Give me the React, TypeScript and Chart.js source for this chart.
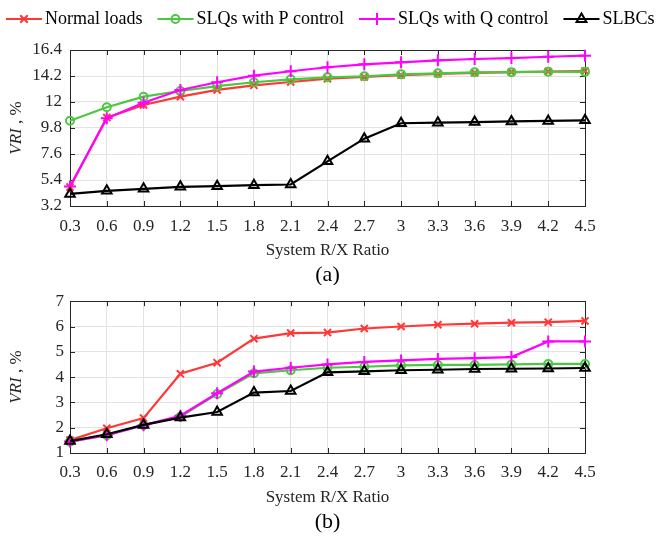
import React, { useEffect, useRef } from 'react';
import { Chart, registerables } from 'chart.js';

Chart.register(...registerables);

const xLabels = ['0.3', '0.6', '0.9', '1.2', '1.5', '1.8', '2.1', '2.4', '2.7', '3', '3.3', '3.6', '3.9', '4.2', '4.5'];
const seriesNames = ['Normal loads', 'SLQs with P control', 'SLQs with Q control', 'SLBCs'];

// Panel (a)
const normalA = [4.8, 10.68, 11.75, 12.45, 13.02, 13.41, 13.69, 13.97, 14.12, 14.28, 14.38, 14.47, 14.53, 14.58, 14.62];
const pCtrlA = [10.42, 11.55, 12.45, 12.93, 13.35, 13.67, 13.92, 14.09, 14.18, 14.34, 14.43, 14.51, 14.52, 14.56, 14.55];
const qCtrlA = [4.85, 10.62, 11.94, 13.02, 13.67, 14.23, 14.6, 14.94, 15.19, 15.36, 15.53, 15.64, 15.72, 15.83, 15.92];
const slbcA = [4.22, 4.48, 4.65, 4.82, 4.88, 4.96, 5.02, 6.98, 8.9, 10.2, 10.25, 10.3, 10.36, 10.4, 10.45];
const yTicksA = [3.2, 5.4, 7.6, 9.8, 12, 14.2, 16.4];

// Panel (b)
const normalB = [1.51, 1.98, 2.38, 4.13, 4.57, 5.52, 5.74, 5.76, 5.92, 6.0, 6.07, 6.11, 6.15, 6.17, 6.22];
const pCtrlB = [1.45, 1.7, 2.1, 2.43, 3.33, 4.15, 4.27, 4.37, 4.41, 4.46, 4.48, 4.48, 4.5, 4.52, 4.52];
const qCtrlB = [1.45, 1.7, 2.1, 2.47, 3.36, 4.22, 4.37, 4.5, 4.6, 4.66, 4.72, 4.75, 4.79, 5.41, 5.41];
const slbcB = [1.47, 1.74, 2.11, 2.4, 2.62, 3.39, 3.45, 4.19, 4.23, 4.27, 4.29, 4.32, 4.33, 4.34, 4.36];
const yTicksB = [1, 2, 3, 4, 5, 6, 7];

const COLORS = ['rgb(255,55,55)', 'rgb(75,200,65)', 'rgb(255,0,255)', 'rgb(0,0,0)'];
const STYLES = ['crossRot', 'circle', 'cross', 'triangle'];
const RADII = [5, 4, 6, 5.5];
const FONT = '"Liberation Serif", "Times New Roman", serif';

function drawMarker(ctx: CanvasRenderingContext2D, style: string, x: number, y: number, r: number, color: string) {
  ctx.save();
  ctx.strokeStyle = color;
  ctx.lineWidth = 2;
  ctx.beginPath();
  if (style === 'crossRot') {
    const d = r * 0.75;
    ctx.moveTo(x - d, y - d); ctx.lineTo(x + d, y + d);
    ctx.moveTo(x + d, y - d); ctx.lineTo(x - d, y + d);
  } else if (style === 'cross') {
    ctx.moveTo(x - r, y); ctx.lineTo(x + r, y);
    ctx.moveTo(x, y - r); ctx.lineTo(x, y + r);
  } else if (style === 'circle') {
    ctx.arc(x, y, r, 0, Math.PI * 2);
  } else if (style === 'triangle') {
    ctx.moveTo(x, y - r);
    ctx.lineTo(x + r * 0.9, y + r * 0.55);
    ctx.lineTo(x - r * 0.9, y + r * 0.55);
    ctx.closePath();
  }
  ctx.stroke();
  ctx.restore();
}

type PanelProps = {
  series: number[][];
  yTicks: number[];
  height: number;
  top: number;
  areaTop: number;
  areaBottom: number;
  tickPadY: number;
  tickPadX: number;
  panelLabel: string;
  showLegend: boolean;
};

function Panel(p: PanelProps) {
  const ref = useRef<HTMLCanvasElement>(null);
  useEffect(() => {
    if (!ref.current) return;
    const areaLeft = 70;
    const areaRight = 585;
    const deco = {
      id: 'deco',
      beforeDatasetsDraw(chart: any) {
        const { ctx, chartArea } = chart;
        const { left, right, top, bottom } = chartArea;
        ctx.save();
        ctx.strokeStyle = '#262626';
        ctx.lineWidth = 1;
        ctx.beginPath();
        const xs = chart.scales.x;
        const ys = chart.scales.y;
        const tl = 5;
        for (let i = 0; i < xLabels.length; i++) {
          const px = Math.round(xs.getPixelForValue(i)) + 0.5;
          ctx.moveTo(px, bottom); ctx.lineTo(px, bottom - tl);
          ctx.moveTo(px, top); ctx.lineTo(px, top + tl);
        }
        for (const v of p.yTicks) {
          const py = Math.round(ys.getPixelForValue(v)) + 0.5;
          ctx.moveTo(left, py); ctx.lineTo(left + tl, py);
          ctx.moveTo(right, py); ctx.lineTo(right - tl, py);
        }
        ctx.stroke();
        ctx.strokeRect(Math.round(left) + 0.5, Math.round(top) + 0.5, Math.round(right - left), Math.round(bottom - top));
        ctx.restore();
      },
      afterDraw(chart: any) {
        const { ctx, chartArea } = chart;
        const { left, right, top, bottom } = chartArea;
        ctx.save();
        ctx.fillStyle = '#262626';
        // y title
        ctx.save();
        ctx.translate(17, (top + bottom) / 2);
        ctx.rotate(-Math.PI / 2);
        ctx.textBaseline = 'middle';
        ctx.font = `italic 17px ${FONT}`;
        const t1 = 'VRI';
        const w1 = ctx.measureText(t1).width;
        ctx.font = `17px ${FONT}`;
        const t2 = ' , %';
        const w2 = ctx.measureText(t2).width;
        const sx = -(w1 + w2) / 2;
        ctx.font = `italic 17px ${FONT}`;
        ctx.textAlign = 'left';
        ctx.fillText(t1, sx, 0);
        ctx.font = `17px ${FONT}`;
        ctx.fillText(t2, sx + w1, 0);
        ctx.restore();
        // x title
        ctx.textAlign = 'center';
        ctx.textBaseline = 'middle';
        ctx.font = `17px ${FONT}`;
        const cx = (left + right) / 2;
        ctx.fillText('System R/X Ratio', cx, bottom + 45);
        ctx.font = `22px ${FONT}`;
        ctx.fillStyle = '#000';
        ctx.fillText(p.panelLabel, cx, bottom + 69);
        // legend
        if (p.showLegend) {
          let x = 6;
          const y = 19;
          ctx.font = `18px ${FONT}`;
          ctx.textAlign = 'left';
          for (let i = 0; i < seriesNames.length; i++) {
            ctx.strokeStyle = COLORS[i];
            ctx.lineWidth = 2.2;
            ctx.beginPath();
            ctx.moveTo(x, y); ctx.lineTo(x + 36, y);
            ctx.stroke();
            drawMarker(ctx, STYLES[i], x + 18, y, RADII[i], COLORS[i]);
            ctx.fillStyle = '#000';
            ctx.fillText(seriesNames[i], x + 39, y);
            x += 39 + ctx.measureText(seriesNames[i]).width + 15;
          }
        }
        ctx.restore();
      },
    };

    const chart = new Chart(ref.current, {
      type: 'line',
      data: {
        labels: xLabels,
        datasets: p.series.map((d, i) => ({
          label: seriesNames[i],
          data: d,
          borderColor: COLORS[i],
          backgroundColor: 'rgba(0,0,0,0)',
          pointBackgroundColor: 'rgba(0,0,0,0)',
          pointBorderColor: COLORS[i],
          pointStyle: STYLES[i] as any,
          pointRadius: RADII[i],
          pointBorderWidth: 2,
          borderWidth: 2.2,
          tension: 0,
          order: 4 - i,
          clip: false as any,
        })),
      },
      options: {
        animation: false,
        responsive: false,
        maintainAspectRatio: false,
        devicePixelRatio: 1,
        layout: { padding: { left: 0, right: 657 - areaRight, top: p.areaTop, bottom: 0 } },
        plugins: { legend: { display: false }, tooltip: { enabled: false }, title: { display: false } },
        scales: {
          x: {
            type: 'category',
            offset: false,
            grid: { color: '#e3e3e3', lineWidth: 1, drawTicks: false },
            border: { display: false },
            ticks: { color: '#262626', font: { family: FONT, size: 17 }, padding: p.tickPadX, maxRotation: 0, autoSkip: false },
            afterFit: (s: any) => { s.height = p.height - p.areaBottom; },
          } as any,
          y: {
            type: 'linear',
            min: p.yTicks[0],
            max: p.yTicks[p.yTicks.length - 1],
            grid: { color: '#e3e3e3', lineWidth: 1, drawTicks: false },
            border: { display: false },
            afterBuildTicks: (s: any) => { s.ticks = p.yTicks.map((v) => ({ value: v })); },
            ticks: { color: '#262626', font: { family: FONT, size: 17 }, padding: p.tickPadY, callback: (v: any) => String(v) },
            afterFit: (s: any) => { s.width = areaLeft; },
          } as any,
        },
      },
      plugins: [deco],
    });
    return () => chart.destroy();
  }, []);
  return (
    <canvas
      ref={ref}
      width={657}
      height={p.height}
      style={{ position: 'absolute', left: 0, top: p.top, width: 657, height: p.height }}
    />
  );
}

export default function App() {
  return (
    <div style={{ position: 'absolute', left: 0, top: 0, width: 657, height: 539, background: '#fff', overflow: 'hidden' }}>
      <Panel
        series={[normalA, pCtrlA, qCtrlA, slbcA]}
        yTicks={yTicksA}
        height={285}
        top={0}
        areaTop={50}
        areaBottom={206}
        tickPadY={8}
        tickPadX={10}
        panelLabel="(a)"
        showLegend={true}
      />
      <Panel
        series={[normalB, pCtrlB, qCtrlB, slbcB]}
        yTicks={yTicksB}
        height={254}
        top={285}
        areaTop={12}
        areaBottom={168}
        tickPadY={6}
        tickPadX={9}
        panelLabel="(b)"
        showLegend={false}
      />
    </div>
  );
}
